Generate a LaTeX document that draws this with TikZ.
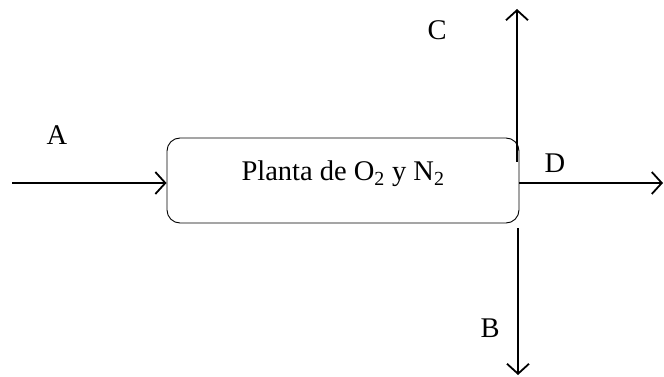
\documentclass[tikz,border=0pt]{standalone}
\usepackage{fontspec}
\setmainfont{Liberation Serif}
\usetikzlibrary{arrows.meta,positioning}

\begin{document}
\begin{tikzpicture}[
  x=1pt, y=-1pt,
  unit/.style={rectangle, draw, line width=0.9pt, rounded corners=13pt, minimum width=352pt, minimum height=85pt, text depth=20pt, font=\fontsize{28.5}{34}\selectfont},
  flow/.style={-{Straight Barb[length=10pt, width=22pt, line width=1.8pt]}, line width=1.8pt},
  tag/.style={font=\fontsize{28.5}{34}\selectfont, inner sep=0pt},
]
  \useasboundingbox (0,0) rectangle (664,377);

  % Plant
  \node[unit] (plant) at (343,180.5) {Planta de O\textsubscript{2} y N\textsubscript{2}};

  % Stream ends
  \coordinate (aStart) at (12,183);
  \coordinate (dEnd) at (663,183);
  \coordinate (cFoot) at (517,162);
  \coordinate (cEnd) at (517,9);
  \coordinate (bFoot) at (518,228);
  \coordinate (bEnd) at (518,375);

  % Streams
  \draw[flow] (aStart) -- (aStart -| plant.west);
  \draw[flow] (dEnd -| plant.east) -- (dEnd);
  \draw[flow] (cFoot) -- (cEnd);
  \draw[flow] (bFoot) -- (bEnd);

  % Labels
  \node[tag] (labA) at (57,135) {A};
  \node[tag] (labC) at (437,30) {C};
  \node[tag] (labD) at (555,163) {D};
  \node[tag] (labB) at (490,328) {B};
\end{tikzpicture}
\end{document}
